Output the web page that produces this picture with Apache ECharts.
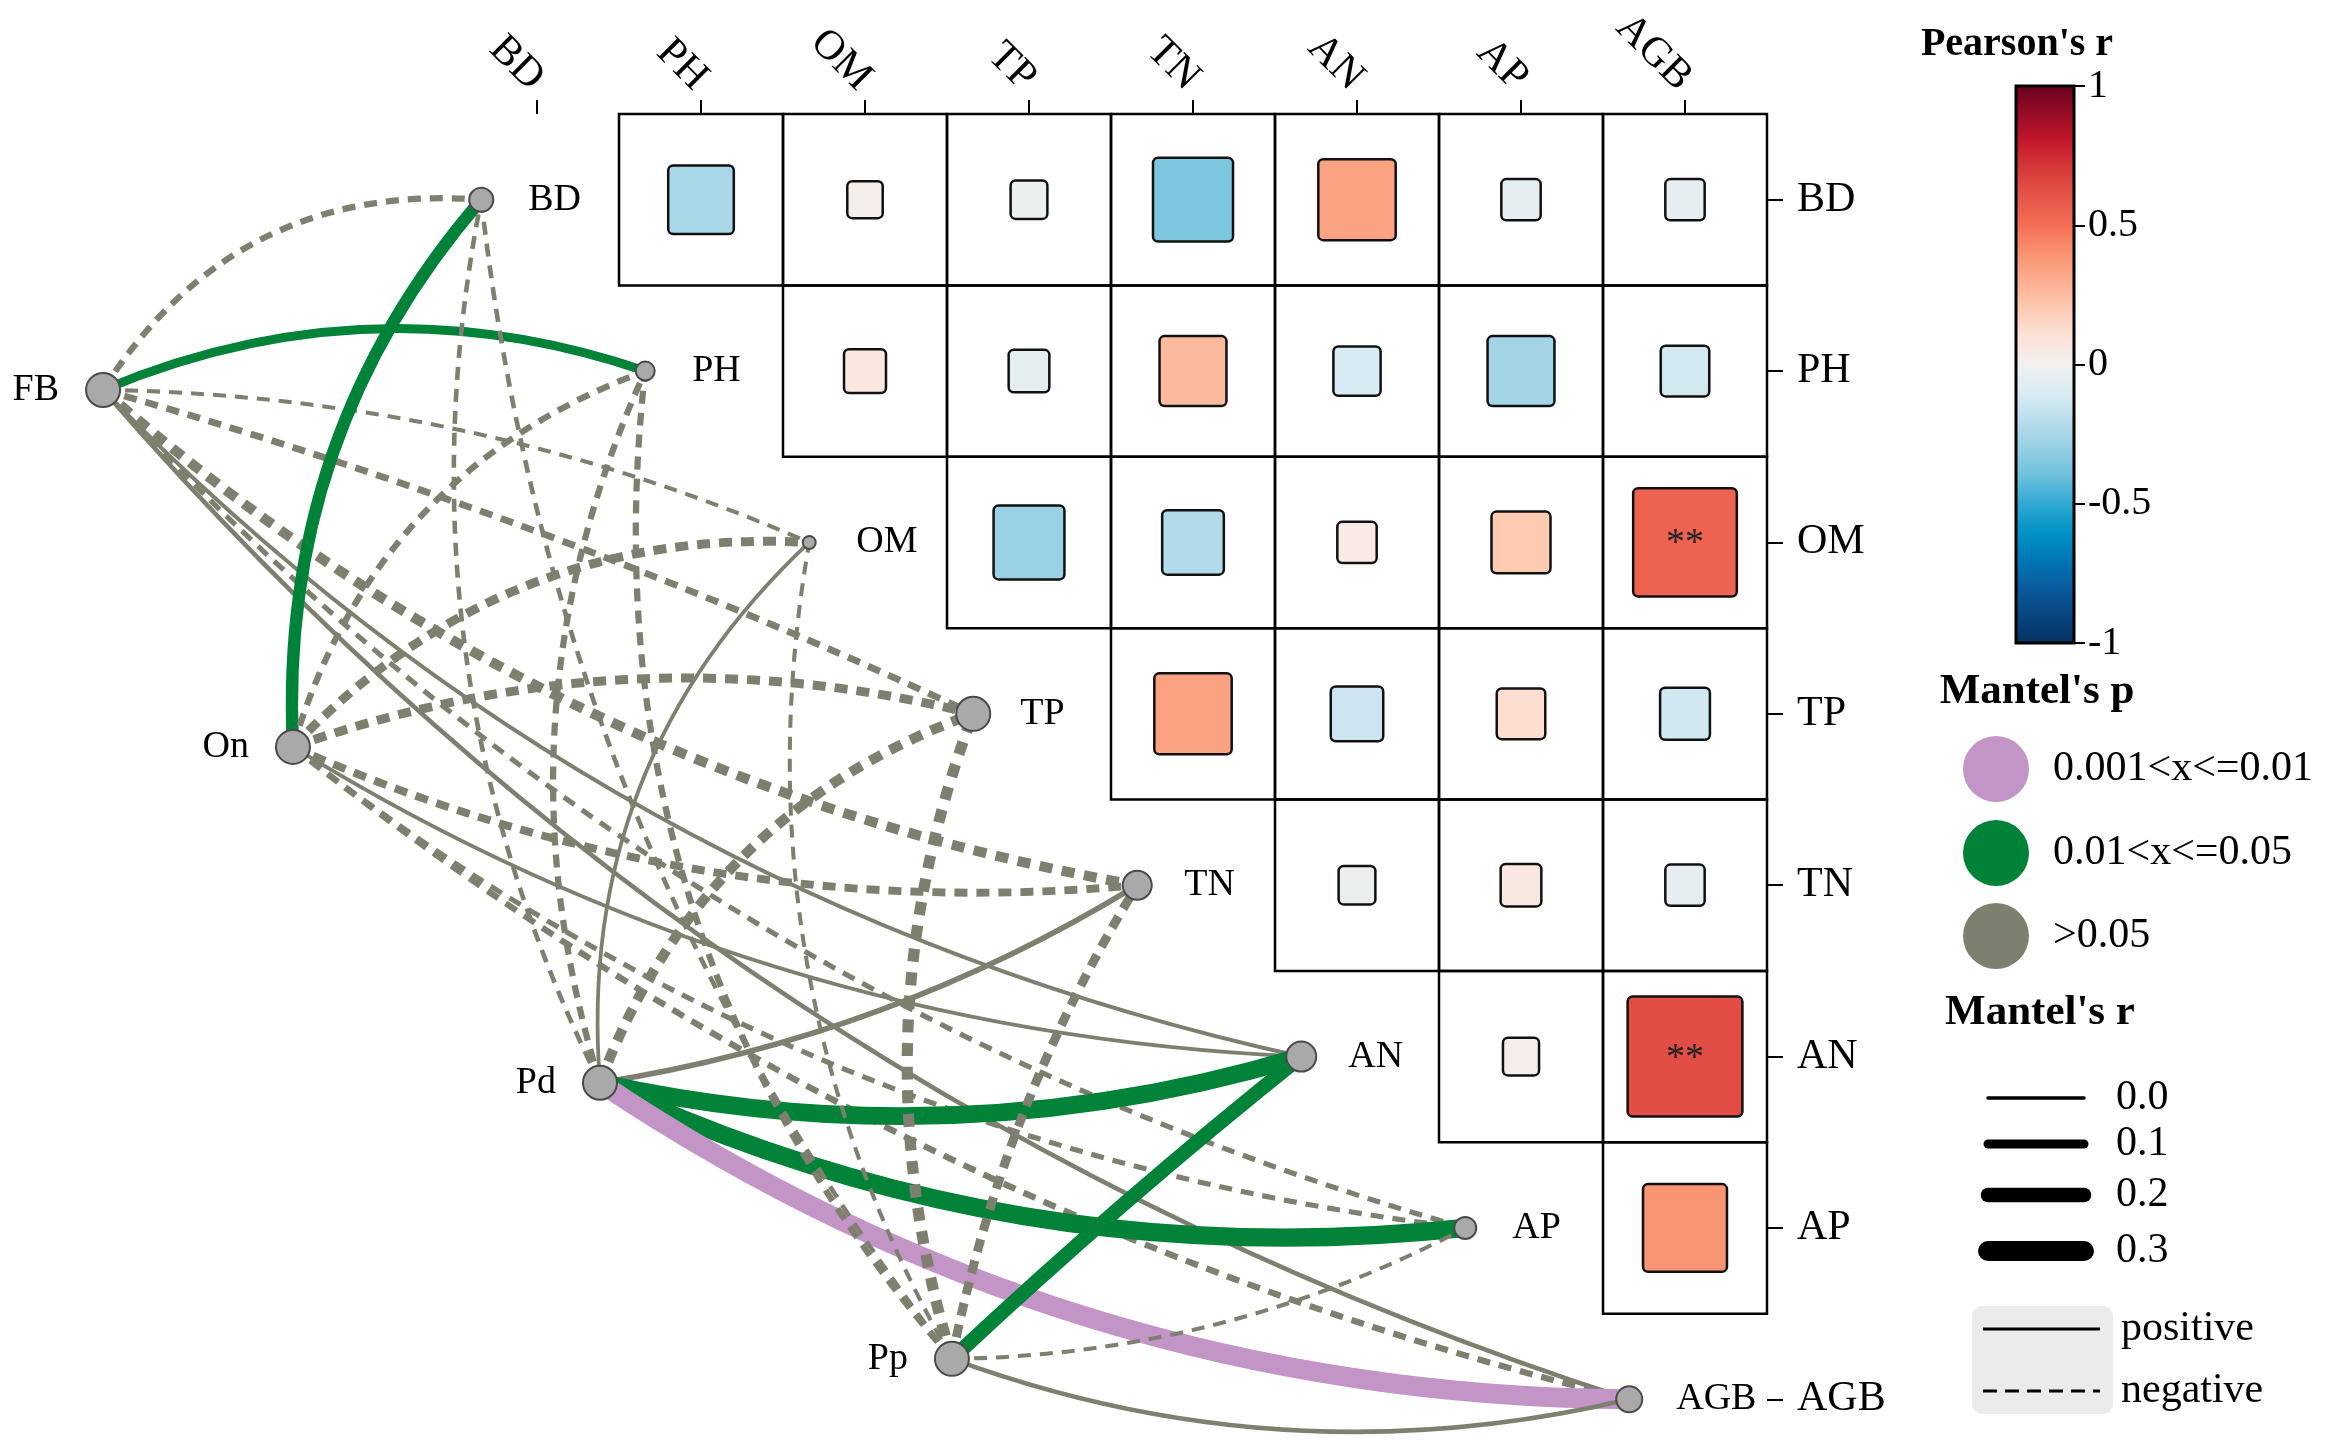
<!DOCTYPE html>
<html><head><meta charset="utf-8">
<script src="https://cdn.jsdelivr.net/npm/echarts@6/dist/echarts.min.js"></script>
<style>html,body{margin:0;padding:0;background:#fff}#c{width:2333px;height:1446px}</style>
</head><body><div id="c"></div>
<script>
// ---------------- data ----------------
const envVars = ['BD','PH','OM','TP','TN','AN','AP','AGB'];
const specVars = ['FB','On','Pd','Pp'];
// Pearson's r (upper triangle): row i holds columns i+1 .. 7
const corrRows = [
  [-0.25, 0.02, -0.03, -0.36, 0.34, -0.05, -0.05],
  [0.07, -0.06, 0.26, -0.11, -0.26, -0.12],
  [-0.29, -0.22, 0.05, 0.20, 0.54],
  [0.34, -0.15, 0.12, -0.13],
  [-0.03, 0.06, -0.05],
  [0.025, 0.625],
  [0.39]
];
const corrSig = [
  ['', '', '', '', '', '', ''],
  ['', '', '', '', '', ''],
  ['', '', '', '', '**'],
  ['', '', '', ''],
  ['', '', ''],
  ['', '**'],
  ['']
];
// Mantel's r (sign: + positive / - negative), rows = specVars, cols = envVars
const mantelR = [
  [-0.05, 0.10, -0.01, -0.06, -0.12, 0.01, -0.03, 0.02],
  [0.16, -0.05, -0.10, -0.10, -0.08, 0.005, -0.03, -0.05],
  [-0.02, -0.05, 0.005, -0.12, 0.04, 0.26, 0.27, 0.30],
  [-0.02, -0.05, -0.01, -0.14, -0.10, 0.20, -0.01, 0.02]
];
const P1 = '0.001<x<=0.01', P2 = '0.01<x<=0.05', P3 = '>0.05';
const mantelP = [
  [P3, P2, P3, P3, P3, P3, P3, P3],
  [P2, P3, P3, P3, P3, P3, P3, P3],
  [P3, P3, P3, P3, P3, P2, P2, P1],
  [P3, P3, P3, P3, P3, P2, P3, P3]
];
const pClasses = [P1, P2, P3];
const mantelRTicks = [0.0, 0.1, 0.2, 0.3];

// ---------------- layout / style ----------------
const FONT = '"Liberation Serif", "Times New Roman", serif';
const pColor = {[P1]: '#C395C7', [P2]: '#008238', [P3]: '#7F7F70'};
const rampColors = ['#053061','#08457F','#0A5A9C','#0077B4','#0093C6','#2EA8D3','#6CC0DE','#96CFE4','#B9DEEC','#DAECF3','#F2F0EF','#FDE3D8','#FDCAB2','#FBAE8F','#F9926F','#F46D55','#E65548','#D6393A','#C3172A','#950C25','#67001F'];
// spec-node layout, in cell units of the correlation grid
const specLayout = [[-2.146, 1.61], [-0.988, 3.693], [0.884, 5.653], [3.03, 7.264]];
const envNodeOffset = 0.34;
const envNodeSize = [24, 19, 13, 34, 29, 30, 22, 26];
const specNodeSize = 34;
// curvature of each link (positive bends to the left of spec->env direction)
const linkBend = [
  [0.30, 0.19, 0.10, 0.04, -0.14, -0.15, -0.14, -0.14],
  [0.20, 0.25, 0.23, 0.15, -0.13, -0.13, -0.14, -0.11],
  [0.17, 0.19, 0.24, 0.23, -0.10, -0.13, -0.14, -0.15],
  [0.14, 0.22, 0.18, 0.17, 0.09, 0.02, -0.12, -0.15]
];
const widthOf = r => 3.5 + 55 * Math.abs(r);

// ---------------- build series data ----------------
const cellData = [];
const cellSig = [];
corrRows.forEach((row, i) => row.forEach((r, k) => {
  const j = i + 1 + k;
  cellData.push([j, i, r]);
  cellSig.push(corrSig[i][k]);
}));
const envPos = envVars.map((n, i) => [i + 0.5 - envNodeOffset, i + 0.5]);

const linkData = [];
specVars.forEach((s, si) => envVars.forEach((e, ei) => {
  const r = mantelR[si][ei];
  const w = widthOf(r);
  linkData.push({
    coords: [specLayout[si], envPos[ei]],
    lineStyle: {
      color: pColor[mantelP[si][ei]],
      width: w,
      type: r >= 0 ? 'solid' : [Math.max(13, w), Math.max(9, w * 0.95)],
      curveness: linkBend[si][ei],
      cap: 'butt',
      opacity: 1
    }
  });
}));

function renderCell(params, api) {
  const j = api.value(0), i = api.value(1), r = api.value(2);
  const p0 = api.coord([j, i]), p1 = api.coord([j + 1, i + 1]);
  const w = p1[0] - p0[0], h = p1[1] - p0[1];
  const f = 0.2 + 0.8 * Math.abs(r);
  const iw = w * f, ih = h * f;
  const cx = p0[0] + w / 2, cy = p0[1] + h / 2;
  const children = [
    {type: 'rect', shape: {x: p0[0], y: p0[1], width: w, height: h},
     style: {fill: 'none', stroke: '#000', lineWidth: 2.5}},
    {type: 'rect', shape: {x: cx - iw / 2, y: cy - ih / 2, width: iw, height: ih, r: 5},
     style: {fill: api.visual('color'), stroke: '#111', lineWidth: 2.5}}
  ];
  const sig = cellSig[params.dataIndex];
  if (sig) children.push({type: 'text', style: {text: sig, x: cx, y: cy + 2, align: 'center', verticalAlign: 'middle',
    textAlign: 'center', textVerticalAlign: 'middle', font: '38px ' + FONT, fill: '#222'}});
  return {type: 'group', children};
}

function renderBar(params, api) {
  const a = api.coord([0, 1]), b = api.coord([1, -1]);
  const stops = rampColors.map((c, k) => ({offset: 1 - k / (rampColors.length - 1), color: c})).reverse();
  return {type: 'rect', shape: {x: a[0], y: a[1], width: b[0] - a[0], height: b[1] - a[1]},
    style: {fill: new echarts.graphic.LinearGradient(0, 0, 0, 1, stops), stroke: '#000', lineWidth: 3}};
}

// ---------------- legend graphics ----------------
const txt = (x, y, text, size, opts = {}) => ({
  type: 'text', x, y, z: 10,
  style: Object.assign({text, font: (opts.bold ? 'bold ' : '') + size + 'px ' + FONT, fill: '#000',
    align: opts.align || 'left', verticalAlign: 'middle', textAlign: opts.align || 'left', textVerticalAlign: 'middle'})
});
const graphics = [];
graphics.push(txt(2017, 45, "Pearson's r", 40, {bold: true, align: 'center'}));
graphics.push(txt(2037, 692, "Mantel's p", 43, {bold: true, align: 'center'}));
const pY = [769, 853, 936];
pClasses.forEach((p, k) => {
  graphics.push({type: 'circle', z: 10, shape: {cx: 1996, cy: pY[k], r: 33}, style: {fill: pColor[p]}});
  graphics.push(txt(2053, pY[k], p, 42));
});
graphics.push(txt(2040, 1013, "Mantel's r", 43, {bold: true, align: 'center'}));
const rY = [1098, 1144, 1195, 1251];
mantelRTicks.forEach((r, k) => {
  graphics.push({type: 'line', z: 10, shape: {x1: 1988, y1: rY[k], x2: 2084, y2: rY[k]},
    style: {stroke: '#000', lineWidth: widthOf(r), lineCap: 'round'}});
  graphics.push(txt(2116, rY[k], r.toFixed(1), 42));
});
graphics.push({type: 'rect', z: 9, shape: {x: 1972, y: 1306, width: 141, height: 108, r: 10}, style: {fill: '#EBEBEB'}});
graphics.push({type: 'line', z: 10, shape: {x1: 1983, y1: 1329, x2: 2100, y2: 1329}, style: {stroke: '#000', lineWidth: 3}});
graphics.push({type: 'line', z: 10, shape: {x1: 1983, y1: 1391, x2: 2100, y2: 1391}, style: {stroke: '#000', lineWidth: 3, lineDash: [14, 8]}});
graphics.push(txt(2121, 1329, 'positive', 42));
graphics.push(txt(2121, 1391, 'negative', 42));

// ---------------- chart ----------------
const chart = echarts.init(document.getElementById('c'), null, {renderer: 'canvas', width: 2333, height: 1446});
const catAxisLabel = {fontSize: 42, fontFamily: FONT, color: '#000', interval: 0};
const hiddenValueAxis = (gridIndex, extra) => Object.assign({
  type: 'value', gridIndex, show: false,
  axisLine: {show: false, onZero: false}, axisTick: {show: false}, axisLabel: {show: false}, splitLine: {show: false}
}, extra);
chart.setOption({
  animation: false,
  backgroundColor: '#fff',
  grid: [
    {left: 455, top: 114, width: 1312, height: 1371, outerBoundsMode: 'none', containLabel: false},
    {left: 2016, top: 86, width: 58, height: 557, outerBoundsMode: 'none', containLabel: false}
  ],
  xAxis: [
    {type: 'category', gridIndex: 0, data: envVars, position: 'top', boundaryGap: true,
     axisLine: {show: false}, splitLine: {show: false},
     axisTick: {show: true, alignWithLabel: true, length: 14, lineStyle: {color: '#000', width: 2}},
     axisLabel: Object.assign({rotate: -45, margin: 30}, catAxisLabel)},
    hiddenValueAxis(0, {min: 0, max: 8, position: 'bottom'}),
    hiddenValueAxis(1, {min: 0, max: 1, position: 'bottom'})
  ],
  yAxis: [
    {type: 'category', gridIndex: 0, data: envVars, inverse: true, position: 'right', boundaryGap: true,
     axisLine: {show: false, onZero: false}, splitLine: {show: false},
     axisTick: {show: true, alignWithLabel: true, length: 16, lineStyle: {color: '#000', width: 2}},
     axisLabel: Object.assign({margin: 30}, catAxisLabel)},
    hiddenValueAxis(0, {min: 0, max: 8, inverse: true, position: 'left'}),
    {type: 'value', gridIndex: 1, min: -1, max: 1, interval: 0.5, position: 'right',
     axisLine: {show: false, onZero: false}, splitLine: {show: false},
     axisTick: {show: true, length: 11, lineStyle: {color: '#000', width: 2}},
     axisLabel: {margin: 14, fontSize: 40, fontFamily: FONT, color: '#000'}}
  ],
  visualMap: {type: 'continuous', show: false, min: -1, max: 1, dimension: 2, seriesIndex: 0,
    inRange: {color: rampColors}},
  graphic: graphics,
  series: [
    {type: 'custom', xAxisIndex: 1, yAxisIndex: 1, data: cellData, renderItem: renderCell, z: 2, silent: true, clip: false},
    {type: 'lines', coordinateSystem: 'cartesian2d', xAxisIndex: 1, yAxisIndex: 1, polyline: false, clip: false,
     silent: true, z: 3, lineStyle: {opacity: 1}, data: linkData},
    {type: 'scatter', xAxisIndex: 1, yAxisIndex: 1, z: 4, silent: true, clip: false, symbol: 'circle',
     itemStyle: {color: '#A9A9A9', borderColor: '#4A4A4A', borderWidth: 2, opacity: 1},
     label: {show: true, position: 'inside', offset: [47, 0], align: 'left', formatter: '{b}',
       fontSize: 38, fontFamily: FONT, color: '#000', textBorderWidth: 0},
     data: envVars.map((n, i) => ({name: n, value: envPos[i], symbolSize: envNodeSize[i]}))},
    {type: 'scatter', xAxisIndex: 1, yAxisIndex: 1, z: 4, silent: true, clip: false, symbol: 'circle',
     itemStyle: {color: '#A9A9A9', borderColor: '#4A4A4A', borderWidth: 2, opacity: 1},
     label: {show: true, position: 'inside', offset: [-44, 0], align: 'right', formatter: '{b}',
       fontSize: 38, fontFamily: FONT, color: '#000', textBorderWidth: 0},
     data: specVars.map((n, i) => ({name: n, value: specLayout[i], symbolSize: specNodeSize}))},
    {type: 'custom', xAxisIndex: 2, yAxisIndex: 2, data: [[0, 0]], renderItem: renderBar, z: 2, silent: true}
  ]
});
</script></body></html>
